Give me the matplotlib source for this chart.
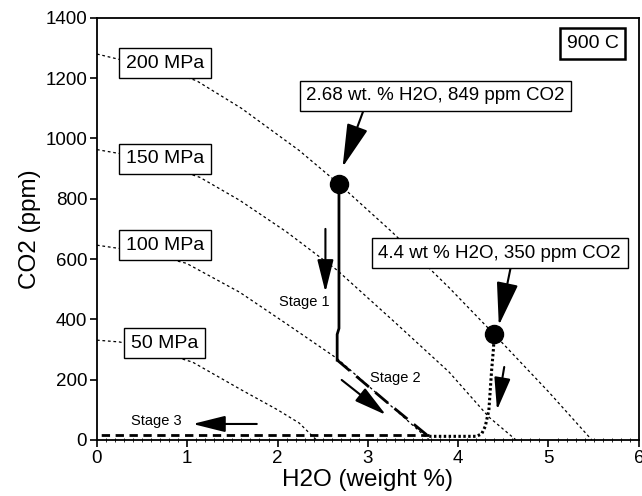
import matplotlib
matplotlib.use("Agg")
import matplotlib.pyplot as plt
from matplotlib.ticker import MultipleLocator

plt.rcParams['font.family'] = ['Liberation Sans', 'DejaVu Sans']

# Isobars (H2O wt%, CO2 ppm)
iso200_x = [0, 0.25, 0.6, 1.1, 1.6, 2.24, 2.68, 3.27, 3.9, 4.4, 5.0, 5.48]
iso200_y = [1280, 1262, 1238, 1192, 1100, 960, 849, 689, 505, 350, 160, 0]
iso150_x = [0, 0.25, 0.7, 1.14, 1.58, 2.1, 2.66, 3.3, 3.9, 4.34, 4.64]
iso150_y = [963, 950, 915, 871, 795, 690, 563, 390, 225, 76, 0]
iso100_x = [0, 0.25, 0.6, 0.99, 1.58, 2.1, 2.66, 3.2, 3.68]
iso100_y = [646, 635, 615, 586, 490, 385, 270, 128, 0]
iso50_x = [0, 0.25, 0.6, 1.06, 1.6, 2.0, 2.24, 2.43]
iso50_y = [331, 325, 300, 258, 166, 100, 56, 0]
iso_labels = ["200 MPa", "150 MPa", "100 MPa", "50 MPa"]
iso_label_y = [1250, 932, 646, 321]

# Degassing paths
stage1_x = [2.68, 2.68, 2.66, 2.66]
stage1_y = [849, 370, 350, 265]
stage2_x = [2.66, 3.2, 3.68]
stage2_y = [265, 128, 10]
stage3_x = [3.68, 0]
stage3_y = [15, 15]
path44_x = [4.4, 4.39, 4.37, 4.34, 4.3, 4.26, 4.2, 3.68]
path44_y = [350, 300, 230, 99, 45, 20, 12, 12]

# Highlighted points
pts_x = [2.68, 4.4]
pts_y = [849, 350]

fig = plt.figure(figsize=(6.42, 4.96), dpi=100)
ax = fig.add_axes([0.151, 0.113, 0.844, 0.851])

iso_style = dict(color='black', lw=0.9, linestyle=(0, (2.2, 2.2)), zorder=2)
for xs, ys in [(iso200_x, iso200_y), (iso150_x, iso150_y),
               (iso100_x, iso100_y), (iso50_x, iso50_y)]:
    ax.plot(xs, ys, **iso_style)

box = dict(boxstyle='square,pad=0.35', facecolor='white', edgecolor='black', lw=1.0)
for lab, yy in zip(iso_labels, iso_label_y):
    ax.text(0.75, yy, lab, ha='center', va='center', fontsize=14,
            bbox=box, zorder=5)

ax.plot(stage1_x, stage1_y, color='black', lw=2.0, zorder=3)
ax.plot(stage2_x, stage2_y, color='black', lw=2.0, linestyle=(0, (6, 3)), zorder=3)
ax.plot(stage3_x, stage3_y, color='black', lw=2.0, linestyle=(0, (3, 2)), zorder=3)
ax.plot(path44_x, path44_y, color='black', lw=2.2, linestyle=(0, (0.8, 0.8)), zorder=3)
ax.plot(pts_x, pts_y, 'o', color='black', markersize=13, zorder=4)

arrow = dict(arrowstyle='-|>,head_length=2.0,head_width=0.5', color='black', lw=1.5,
             shrinkA=0, shrinkB=0)
ax.annotate("2.68 wt. % H2O, 849 ppm CO2", xy=(2.72, 905), xytext=(3.75, 1142),
            ha='center', va='center', fontsize=13.5, bbox=box,
            arrowprops=dict(arrow, relpos=(0.23, 0.0)), zorder=6)
ax.annotate("4.4 wt % H2O, 350 ppm CO2", xy=(4.45, 380), xytext=(4.46, 619),
            ha='center', va='center', fontsize=13.5, bbox=box,
            arrowprops=dict(arrow, relpos=(0.55, 0.0)), zorder=6)
ax.text(5.49, 1315, "900 C", ha='center', va='center', fontsize=14,
        bbox=dict(boxstyle='square,pad=0.35', facecolor='white', edgecolor='black', lw=1.8))

# Stage arrows
ax.annotate("", xy=(2.53, 490), xytext=(2.53, 700), arrowprops=arrow)
ax.annotate("", xy=(3.2, 83), xytext=(2.71, 199), arrowprops=arrow)
ax.annotate("", xy=(1.06, 53), xytext=(1.77, 53), arrowprops=arrow)
ax.annotate("", xy=(4.43, 99), xytext=(4.51, 242), arrowprops=arrow)
ax.text(2.30, 457, "Stage 1", ha='center', va='center', fontsize=10.5)
ax.text(3.30, 207, "Stage 2", ha='center', va='center', fontsize=10.5)
ax.text(0.66, 63, "Stage 3", ha='center', va='center', fontsize=10.5)

ax.set_xlim(0, 6)
ax.set_ylim(0, 1400)
ax.set_xticks([0, 1, 2, 3, 4, 5, 6])
ax.set_yticks(range(0, 1401, 200))
ax.xaxis.set_minor_locator(MultipleLocator(0.1))
ax.tick_params(axis='both', which='major', direction='out', length=5, width=1.2,
               labelsize=13.5, pad=2)
ax.tick_params(axis='x', which='minor', direction='inout', length=3, width=0.6)
for s in ax.spines.values():
    s.set_linewidth(1.3)
ax.set_xlabel("H2O (weight %)", fontsize=17.5, labelpad=2)
ax.set_ylabel("CO2 (ppm)", fontsize=17.5, labelpad=3)

fig.savefig("out.png", dpi=100)
